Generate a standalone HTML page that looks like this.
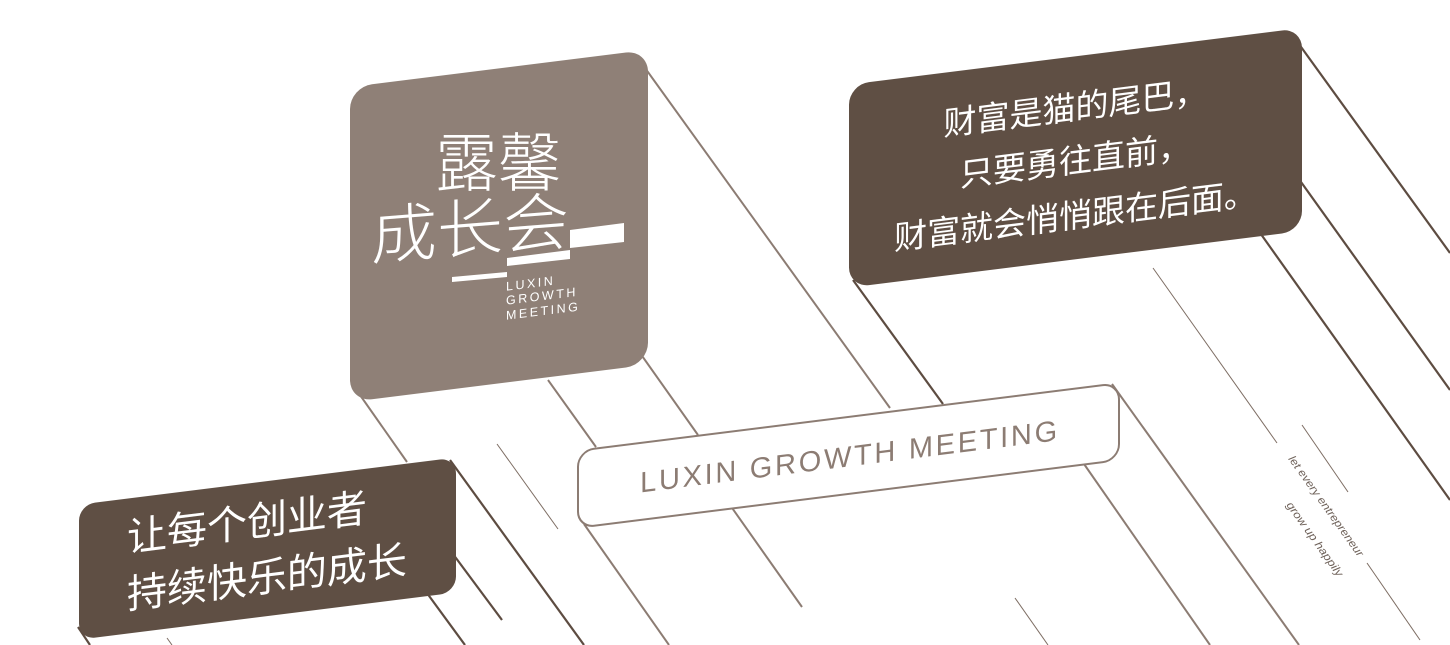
<!DOCTYPE html>
<html>
<head>
<meta charset="utf-8">
<style>
html,body{margin:0;padding:0;background:#fff;}
svg{display:block;}
</style>
</head>
<body>
<svg width="1450" height="645" viewBox="0 0 1450 645" xmlns="http://www.w3.org/2000/svg">
<rect width="1450" height="645" fill="#ffffff"/>

<!-- light (gray) extrusion lines -->
<g stroke="#8c7c73" stroke-width="2" fill="none" stroke-linecap="butt">
  <line x1="640" y1="61" x2="890" y2="408"/>
  <line x1="640" y1="353" x2="698" y2="435"/>
  <line x1="548" y1="380" x2="596" y2="447"/>
  <line x1="360" y1="395" x2="407" y2="462"/>
  <line x1="584" y1="524" x2="669" y2="645"/>
  <line x1="730" y1="505" x2="802" y2="607"/>
  <line x1="1112" y1="384" x2="1299" y2="645"/>
  <line x1="1084" y1="464" x2="1210" y2="645"/>
</g>
<!-- dark extrusion lines -->
<g stroke="#5d4c41" stroke-width="2.2" fill="none">
  <line x1="853" y1="280" x2="943" y2="404"/>
  <line x1="1296" y1="40" x2="1450" y2="253"/>
  <line x1="1296" y1="175" x2="1450" y2="390"/>
  <line x1="1258" y1="230" x2="1450" y2="500"/>
  <line x1="450" y1="460" x2="584" y2="645"/>
  <line x1="450" y1="550" x2="502" y2="620"/>
  <line x1="424" y1="589" x2="465" y2="645"/>
  <line x1="78" y1="627" x2="90" y2="645"/>
</g>
<!-- thin decorative lines -->
<g stroke="#7d6d63" stroke-width="1" fill="none">
  <line x1="497" y1="444" x2="558" y2="529"/>
  <line x1="1153" y1="268" x2="1277" y2="443"/>
  <line x1="1302" y1="425" x2="1348" y2="492"/>
  <line x1="1367" y1="563" x2="1420" y2="640"/>
  <line x1="1015" y1="598" x2="1048" y2="645"/>
  <line x1="167" y1="638" x2="172" y2="645"/>
</g>

<!-- rotated small text -->
<g fill="#6f625a" font-family="Liberation Sans, sans-serif" font-style="italic" font-size="11">
  <text transform="translate(1288,459) rotate(54.5)" textLength="121" lengthAdjust="spacingAndGlyphs">let every entrepreneur</text>
  <text transform="translate(1286,505) rotate(54.5)" textLength="89" lengthAdjust="spacingAndGlyphs">grow up happily</text>
</g>

<!-- skewed boxes -->
<g transform="skewY(-7.125)">
  <rect x="350" y="130.75" width="298" height="315" rx="22" ry="22" fill="#8f8077"/>
  <rect x="849" y="190.7" width="453" height="203" rx="20" ry="20" fill="#5f4f44"/>
  <rect x="578" y="523" width="541" height="77" rx="16" ry="16" fill="#ffffff" stroke="#8c7c73" stroke-width="2"/>
  <rect x="79" y="514.5" width="377" height="135" rx="16" ry="16" fill="#5f4f44"/>

  <g fill="#ffffff" font-family="Liberation Sans, Noto Sans CJK SC, sans-serif" font-size="33" text-anchor="middle">
    <text x="1075.5" y="253.5">财富是猫的尾巴，</text>
    <text x="1075.5" y="306.5">只要勇往直前，</text>
    <text x="1075.5" y="361.5">财富就会悄悄跟在后面。</text>
  </g>
  <g fill="#ffffff" font-family="Liberation Sans, Noto Sans CJK SC, sans-serif" font-size="40">
    <text x="127" y="567.5">让每个创业者</text>
    <text x="127" y="624.5">持续快乐的成长</text>
  </g>
  <text x="850" y="572.5" fill="#8c7c73" font-family="Liberation Sans, sans-serif" font-size="29" letter-spacing="2.7" text-anchor="middle">LUXIN GROWTH MEETING</text>

  <g fill="#ffffff" font-family="Liberation Sans, sans-serif" font-size="12.5" letter-spacing="2.5">
    <text x="506" y="354">LUXIN</text>
    <text x="506" y="368">GROWTH</text>
    <text x="506" y="383">MEETING</text>
  </g>
</g>

<!-- logo characters -->
<text x="435" y="186" fill="#ffffff" font-family="Noto Sans CJK SC, sans-serif" font-weight="300" font-size="64" textLength="126" lengthAdjust="spacingAndGlyphs">露馨</text>
<g transform="skewY(-4.5)">
  <text x="371" y="288.4" fill="#ffffff" font-family="Noto Sans CJK SC, sans-serif" font-weight="300" font-size="64" textLength="198" lengthAdjust="spacingAndGlyphs">成长会</text>
</g>
<!-- logo bars -->
<g fill="#ffffff">
  <polygon points="452,277 507,272 507,277 452,282"/>
  <polygon points="507,258 570,250 570,259 507,266"/>
  <polygon points="570,230 624,223 624,242 570,248"/>
</g>
</svg>
</body>
</html>
